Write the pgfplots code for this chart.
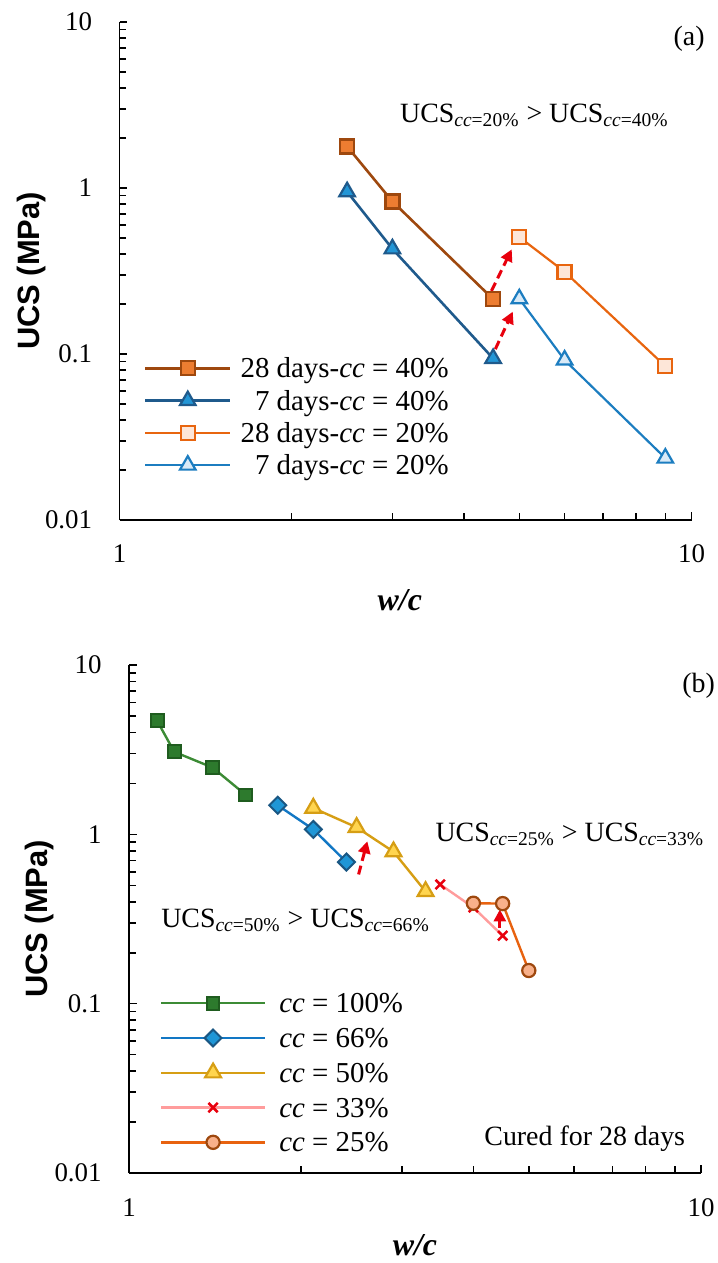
\documentclass[border=0pt]{standalone}
\usepackage{pgfplots}
\pgfplotsset{compat=1.18}
\usepackage{fontspec}
\setmainfont{Liberation Serif}
\newfontfamily\arialfont{Liberation Sans}
\usetikzlibrary{arrows.meta}

% panel (a)
\definecolor{aBrown}{HTML}{9E480E}
\definecolor{aOrange}{HTML}{ED7D31}
\definecolor{aNavy}{HTML}{1F5A8C}
\definecolor{aBlueFill}{HTML}{2396D6}
\definecolor{aOrangeL}{HTML}{E8650F}
\definecolor{aPeach}{HTML}{FDE6D8}
\definecolor{aBlueL}{HTML}{1C7DC0}
\definecolor{aSky}{HTML}{D9EAF7}
% panel (b)
\definecolor{gLine}{HTML}{3C8B35}
\definecolor{gFill}{HTML}{2D7A2D}
\definecolor{gEdge}{HTML}{1F5C1F}
\definecolor{bLine}{HTML}{1277C4}
\definecolor{bFill}{HTML}{1F96D6}
\definecolor{bEdge}{HTML}{1A5783}
\definecolor{yLine}{HTML}{D69E14}
\definecolor{yFill}{HTML}{FFD54F}
\definecolor{pLine}{HTML}{FF9C9C}
\definecolor{xRed}{HTML}{E8000D}
\definecolor{oLine}{HTML}{E8620F}
\definecolor{oFill}{HTML}{F8B08A}
\definecolor{arrowred}{HTML}{E8000D}

\tikzset{
  ann/.style={font=\fontsize{14}{16}\selectfont, inner sep=0pt},
  arr/.style={draw=arrowred, line width=1.5bp, dash pattern=on 4.5bp off 2.5bp,
    -{Triangle[width=6bp,length=6bp]}},
}

\begin{document}
\begin{tikzpicture}
% ---------------- panel (a)
\begin{axis}[
  scale only axis,
  width=286bp, height=249bp,
  at={(59.75bp,-260bp)}, anchor=south west,
  xmode=log, ymode=log,
  xmin=1, xmax=10, ymin=0.01, ymax=10,
  axis x line=bottom, axis y line=left,
  axis line style={-, line width=0.8bp, black},
  xtick={1,10}, xticklabels={1,10},
  ytick={0.01,0.1,1,10}, yticklabels={0.01,0.1,1,10},
  minor xtick={2,3,4,5,6,7,8,9},
  minor ytick={0.02,0.03,0.04,0.05,0.06,0.07,0.08,0.09,0.2,0.3,0.4,0.5,0.6,0.7,0.8,0.9,2,3,4,5,6,7,8,9},
  tick align=inside,
  major tick length=4bp, minor tick length=3.3bp,
  tick style={black, line width=0.8bp},
  ticklabel style={font=\fontsize{13.5}{16}\selectfont},
  xticklabel style={anchor=center, inner sep=0pt, yshift=-17bp},
  yticklabel style={anchor=east, inner sep=0pt, xshift=-13.5bp},
  xlabel={\textbf{\textit{w/c}}},
  ylabel={\arialfont\bfseries UCS (MPa)},
  every axis x label/.style={at={(axis description cs:0.49,-0.16)}, anchor=center,
    font=\fontsize{16}{19}\selectfont},
  every axis y label/.style={at={(axis description cs:-0.153,0.5)}, rotate=90, anchor=center,
    font=\fontsize{15.5}{18}\selectfont},
  clip=false,
  legend cell align=right,
  legend style={at={(0.0428,0.338)}, anchor=north west, draw=none, fill=none,
    inner sep=0pt, outer sep=0pt, column sep=2.5bp, row sep=-0.5bp,
    font=\fontsize{14.5}{16}\selectfont},
  legend image code/.code={\draw[mark repeat=2,mark phase=2,#1] plot coordinates {(0bp,0bp) (21.25bp,0bp) (42.5bp,0bp)};},
]
\addplot[color=aBrown, line width=1.3bp, mark=square*, mark size=3.5bp,
  mark options={solid, fill=aOrange, draw=aBrown, line width=1.1bp}]
  coordinates {(2.5,1.78) (3,0.83) (4.5,0.214)};
\addlegendentry{\strut 28 days-\textit{cc} = 40\%}
\addplot[color=aNavy, line width=1.3bp, mark=triangle*, mark size=4.5bp,
  mark options={solid, fill=aBlueFill, draw=aNavy, line width=1.1bp}]
  coordinates {(2.5,0.95) (3,0.43) (4.5,0.094)};
\addlegendentry{\strut 7 days-\textit{cc} = 40\%}
\addplot[color=aOrangeL, line width=1.1bp, mark=square*, mark size=3.5bp,
  mark options={solid, fill=aPeach, draw=aOrangeL, line width=1.1bp}]
  coordinates {(5,0.506) (6,0.313) (9,0.0845)};
\addlegendentry{\strut 28 days-\textit{cc} = 20\%}
\addplot[color=aBlueL, line width=1.1bp, mark=triangle*, mark size=4.5bp,
  mark options={solid, fill=aSky, draw=aBlueL, line width=1.1bp}]
  coordinates {(5,0.215) (6,0.092) (9,0.0236)};
\addlegendentry{\strut 7 days-\textit{cc} = 20\%}
\draw[arr] (axis cs:4.47,0.24) -- (axis cs:4.85,0.427);
\draw[arr] (axis cs:4.54,0.107) -- (axis cs:4.87,0.18);
\node[ann, anchor=base west] at (axis cs:3.09,2.49)
  {UCS\textsubscript{\textit{cc}=20\%} > UCS\textsubscript{\textit{cc}=40\%}};
\node[ann, anchor=west] at (axis cs:9.29,7.95) {(a)};
\end{axis}

% ---------------- panel (b)
\begin{axis}[
  scale only axis,
  width=286bp, height=254bp,
  at={(64.5bp,-586.5bp)}, anchor=south west,
  xmode=log, ymode=log,
  xmin=1, xmax=10, ymin=0.01, ymax=10,
  axis x line=bottom, axis y line=left,
  axis line style={-, line width=0.8bp, black},
  xtick={1,10}, xticklabels={1,10},
  ytick={0.01,0.1,1,10}, yticklabels={0.01,0.1,1,10},
  minor xtick={2,3,4,5,6,7,8,9},
  minor ytick={0.02,0.03,0.04,0.05,0.06,0.07,0.08,0.09,0.2,0.3,0.4,0.5,0.6,0.7,0.8,0.9,2,3,4,5,6,7,8,9},
  tick align=inside,
  major tick length=4bp, minor tick length=3.3bp,
  tick style={black, line width=0.8bp},
  ticklabel style={font=\fontsize{13.5}{16}\selectfont},
  xticklabel style={anchor=center, inner sep=0pt, yshift=-17.5bp},
  yticklabel style={anchor=east, inner sep=0pt, xshift=-13.5bp},
  xlabel={\textbf{\textit{w/c}}},
  ylabel={\arialfont\bfseries UCS (MPa)},
  every axis x label/.style={at={(axis description cs:0.5,-0.142)}, anchor=center,
    font=\fontsize{16}{19}\selectfont},
  every axis y label/.style={at={(axis description cs:-0.157,0.5)}, rotate=90, anchor=center,
    font=\fontsize{15.5}{18}\selectfont},
  clip=false,
  legend cell align=left,
  legend style={at={(0.054,0.367)}, anchor=north west, draw=none, fill=none,
    inner sep=0pt, outer sep=0pt, column sep=4.5bp, row sep=0.75bp,
    font=\fontsize{14.5}{16}\selectfont},
  legend image code/.code={\draw[mark repeat=2,mark phase=2,#1] plot coordinates {(0bp,0bp) (26bp,0bp) (52bp,0bp)};},
]
\addplot[color=gLine, line width=1.2bp, mark=square*, mark size=3.2bp,
  mark options={solid, fill=gFill, draw=gEdge, line width=1bp}]
  coordinates {(1.12,4.68) (1.2,3.07) (1.4,2.48) (1.6,1.71)};
\addlegendentry{\strut\textit{cc} = 100\%}
\addplot[color=bLine, line width=1.2bp, mark=square*, mark size=3bp,
  mark options={solid, rotate=45, fill=bFill, draw=bEdge, line width=1bp}]
  coordinates {(1.82,1.485) (2.1,1.07) (2.4,0.686)};
\addlegendentry{\strut\textit{cc} = 66\%}
\addplot[color=yLine, line width=1.2bp, mark=triangle*, mark size=4.6bp,
  mark options={solid, fill=yFill, draw=yLine, line width=1.1bp}]
  coordinates {(2.1,1.43) (2.5,1.10) (2.9,0.79) (3.3,0.46)};
\addlegendentry{\strut\textit{cc} = 50\%}
\addplot[color=pLine, line width=1.2bp, mark=x, mark size=3.3bp,
  mark options={solid, draw=xRed, line width=1.3bp}]
  coordinates {(3.5,0.506) (4.0,0.37) (4.5,0.252)};
\addlegendentry{\strut\textit{cc} = 33\%}
\addplot[color=oLine, line width=1.2bp, mark=*, mark size=3.3bp,
  mark options={solid, fill=oFill, draw=aBrown, line width=1.1bp}]
  coordinates {(4.0,0.392) (4.5,0.39) (5.0,0.157)};
\addlegendentry{\strut\textit{cc} = 25\%}
\draw[arr] (axis cs:2.52,0.58) -- (axis cs:2.61,0.91);
\draw[arr] (axis cs:4.45,0.28) -- (axis cs:4.45,0.36);
\node[ann, anchor=base west] at (axis cs:3.43,0.91)
  {UCS\textsubscript{\textit{cc}=25\%} > UCS\textsubscript{\textit{cc}=33\%}};
\node[ann, anchor=base west] at (axis cs:1.137,0.282)
  {UCS\textsubscript{\textit{cc}=50\%} > UCS\textsubscript{\textit{cc}=66\%}};
\node[ann, anchor=base west] at (axis cs:4.175,0.01445) {Cured for 28 days};
\node[ann, anchor=west] at (axis cs:9.26,7.55) {(b)};
\end{axis}
\pgfresetboundingbox
\useasboundingbox (0,0) rectangle (359bp,-631.5bp);
\end{tikzpicture}
\end{document}
